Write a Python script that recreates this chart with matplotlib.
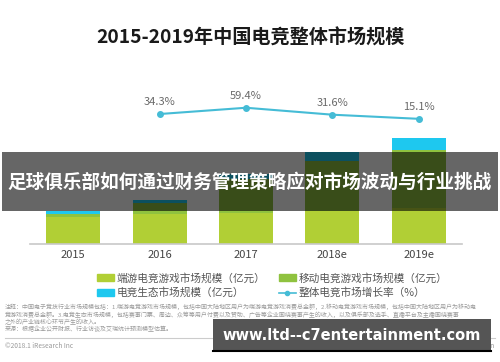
import matplotlib
matplotlib.use("Agg")
import matplotlib.pyplot as plt
from matplotlib.patches import Rectangle
from matplotlib.lines import Line2D

plt.rcParams['font.family'] = ['Noto Sans CJK SC', 'DejaVu Sans']

# data (亿元 / %)
years = ['2015', '2016', '2017', '2018e', '2019e']
pc_game = [250, 275, 290, 310, 333]      # 端游电竞游戏市场规模
mobile_game = [28, 100, 310, 460, 540]   # 移动电竞游戏市场规模
ecosystem = [26, 33, 50, 85, 111]        # 电竞生态市场规模
growth_years = ['2016', '2017', '2018e', '2019e']
growth = [34.3, 59.4, 31.6, 15.1]        # 整体电竞市场增长率

c_pc = '#b1cf35'
c_mobile = '#8fc23f'
c_eco = '#1ec8ef'
c_line = '#45bcd6'

W, H = 500, 362
fig = plt.figure(figsize=(W / 100, H / 100), dpi=100)
fig.patch.set_facecolor('white')


def fx(x):
    return x / W


def fy(y):
    return 1 - y / H


ax = fig.add_axes([fx(30), fy(244), fx(432), 144 / H])
x = list(range(len(years)))
bw = 0.625
ax.bar(x, pc_game, bw, color=c_pc, zorder=2)
bot = [a for a in pc_game]
ax.bar(x, mobile_game, bw, bottom=bot, color=c_mobile, zorder=2)
bot = [a + b for a, b in zip(pc_game, mobile_game)]
ax.bar(x, ecosystem, bw, bottom=bot, color=c_eco, zorder=2)
ax.set_xlim(-0.5, 4.5)
ax.set_ylim(0, 1333)
ax.set_xticks(x)
ax.set_xticklabels(years, fontsize=8, color='#444444')
ax.tick_params(axis='x', length=0, pad=4)
ax.set_yticks([])
for s in ['top', 'right', 'left']:
    ax.spines[s].set_visible(False)
ax.spines['bottom'].set_color('#c8c8c8')
ax.spines['bottom'].set_linewidth(1.2)
ax.patch.set_alpha(0)

ax2 = ax.twinx()
gx = [years.index(g) for g in growth_years]
ax2.plot(gx, growth, color=c_line, lw=1.5, marker='o', ms=4, zorder=3)
for xi, v in zip(gx, growth):
    ax2.annotate('%.1f%%' % v, (xi, v), xytext=(0, 5), textcoords='offset points',
                 ha='center', va='bottom', fontsize=8, color='#6a6a6a')
ax2.set_ylim(-485.6, 90.4)
ax2.set_yticks([])
for s in ax2.spines.values():
    s.set_visible(False)

# title
fig.text(0.5, fy(38), '2015-2019年中国电竞整体市场规模', ha='center', va='center',
         fontsize=13.8, fontweight='bold', color='#1a1a1a')

# legend
handles = [
    Rectangle((0, 0), 1, 1, color=c_pc),
    Rectangle((0, 0), 1, 1, color=c_eco),
    Rectangle((0, 0), 1, 1, color=c_mobile),
    Line2D([], [], color=c_line, marker='o', ms=3, lw=1.2),
]
labels = ['端游电竞游戏市场规模（亿元）', '电竞生态市场规模（亿元）',
          '移动电竞游戏市场规模（亿元）', '整体电竞市场增长率（%）']
fig.legend(handles, labels, ncol=2, loc='upper left', bbox_to_anchor=(fx(87), fy(263)),
           frameon=False, fontsize=7.7, labelcolor='#555555', handlelength=1.6,
           handleheight=0.6, handletextpad=0.3, columnspacing=1.2, labelspacing=0.4)

# footnote
foot = [
    '注释：中国电子竞技行业市场规模包括：1.端游电竞游戏市场规模，包括中国大陆地区用户为端游电竞游戏消费总金额，2.移动电竞游戏市场规模，包括中国大陆地区用户为移动电',
    '竞游戏消费总金额。3.电竞生态市场规模，包括赛事门票、周边、众筹等用户付费以及赞助、广告等企业围绕赛事产生的收入，以及俱乐部及选手、直播平台及主播围绕赛事',
    '之外的产业链核心环节产生的收入。',
    '来源：根据企业公开财报、行业访谈及艾瑞统计预测模型估算。',
]
for i, t in enumerate(foot):
    fig.text(fx(5), fy(307 + i * 7.3), t, ha='left', va='center', fontsize=4.3, color='#9a9a9a')
fig.add_artist(Line2D([fx(5), fx(495)], [fy(338), fy(338)], color='#cccccc', lw=0.8))
fig.text(fx(5), fy(346), '©2018.1 iResearch Inc', ha='left', va='center', fontsize=4.8, color='#9a9a9a')
fig.text(fx(495), fy(346), 'www.iresearch.com.cn', ha='right', va='center', fontsize=4.8, color='#9a9a9a')

# overlay banner
fig.add_artist(Rectangle((fx(2), fy(211)), fx(496), 59 / H, transform=fig.transFigure,
                         facecolor='black', alpha=0.6, edgecolor='none', zorder=10))
fig.text(0.5, fy(182), '足球俱乐部如何通过财务管理策略应对市场波动与行业挑战', ha='center', va='center',
         fontsize=13.4, fontweight='bold', color='white', zorder=11)

# watermark box
fig.add_artist(Rectangle((fx(213), fy(351)), fx(278), 32 / H, transform=fig.transFigure,
                         facecolor='#555555', edgecolor='none', zorder=10))
fig.add_artist(Line2D([fx(213), fx(491)], [fy(351), fy(351)], color='black', lw=1.5, zorder=11))
fig.text(fx(352), fy(335), 'www.ltd--c7entertainment.com', ha='center', va='center',
         fontsize=10.5, fontweight='bold', color='white', family='DejaVu Sans', zorder=11)

fig.savefig('out.png', dpi=100)
